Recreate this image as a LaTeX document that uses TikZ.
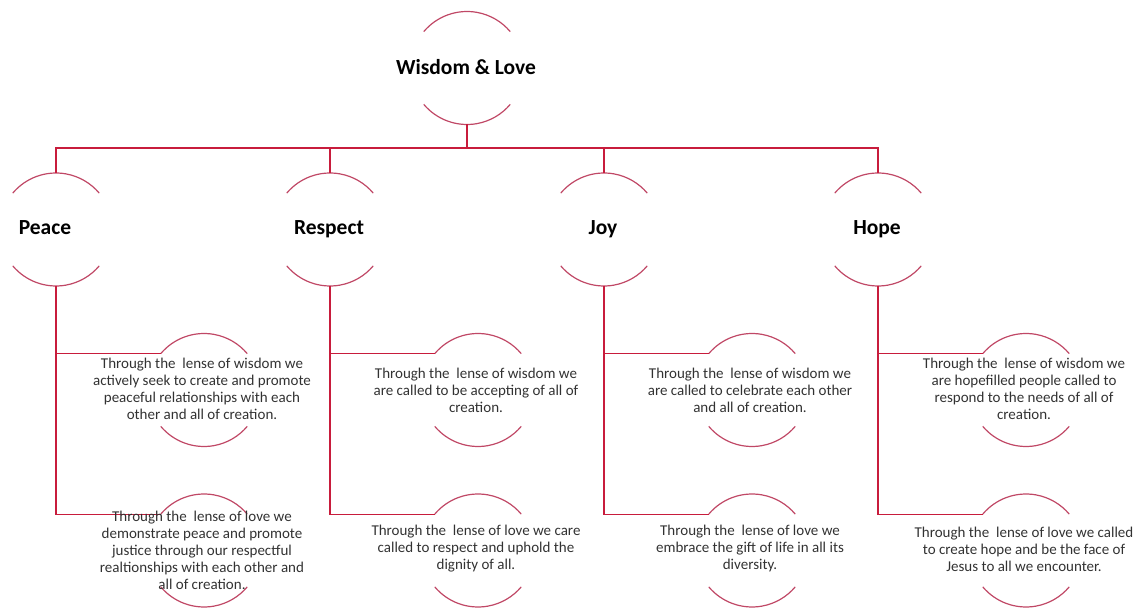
\documentclass[tikz,border=0pt]{standalone}
\usepackage{fontspec}
\setmainfont{Carlito}
\definecolor{connred}{RGB}{200,28,60}
\definecolor{arcred}{RGB}{192,72,102}
\definecolor{txtgray}{RGB}{50,50,50}
\tikzset{
  ring/.style={circle, minimum size=113pt, inner sep=0pt, outer sep=0pt},
  conn/.style={draw=connred, line width=1.2pt},
  arcline/.style={draw=arcred, line width=1.2pt},
  labone/.style={font=\fontsize{21.5}{25}\selectfont\bfseries, text=black, inner sep=0pt, anchor=base},
  labthree/.style={font=\fontsize{15}{17}\selectfont, text=txtgray, align=center, inner sep=0pt},
}
\newcommand\tworingarcs[1]{%
  \draw[arcline] (#1.140) arc[start angle=140, end angle=40, radius=56.5pt];
  \draw[arcline] (#1.220) arc[start angle=220, end angle=320, radius=56.5pt];}
\begin{document}
\begin{tikzpicture}[x=1pt,y=1pt]
\useasboundingbox (0,0) rectangle (1144,608);
% rings
\node[ring] (w) at (467,540) {};
\node[ring] (p) at (56,378.5) {};
\node[ring] (r) at (330,378.5) {};
\node[ring] (j) at (604,378.5) {};
\node[ring] (h) at (878,378.5) {};
\node[ring] (p1) at (204,218) {};
\node[ring] (p2) at (204,57.5) {};
\node[ring] (r1) at (478,218) {};
\node[ring] (r2) at (478,57.5) {};
\node[ring] (j1) at (752,218) {};
\node[ring] (j2) at (752,57.5) {};
\node[ring] (h1) at (1026,218) {};
\node[ring] (h2) at (1026,57.5) {};
\foreach \n in {w,p,r,j,h,p1,p2,r1,r2,j1,j2,h1,h2}{\tworingarcs{\n}}
% connectors
\coordinate (bus) at (467,460);
\draw[conn] (w.south) -- (bus);
\foreach \n in {p,r,j,h}{\draw[conn] (\n.north) |- (bus);}
\foreach \n in {p,r,j,h}{
  \draw[conn] (\n.south) |- (\n1.140);
  \draw[conn] (\n.south) |- (\n2.140);}
% labels
\node[labone] (wt) at (466,533) {Wisdom \& Love};
\node[labone] (pt) at (45,373) {Peace};
\node[labone] (rt) at (329,373) {Respect};
\node[labone] (jt) at (603,373) {Joy};
\node[labone] (ht) at (877,373) {Hope};
\node[labthree] (p1t) at (202,219) {Through the\ \ lense of wisdom we\\actively seek to create and promote\\peaceful relationships with each\\other and all of creation.};
\node[labthree] (p2t) at (202,57.5) {Through the\ \ lense of love we\\demonstrate peace and promote\\justice through our respectful\\realtionships with each other and\\all of creation.};
\node[labthree] (r1t) at (476,217.5) {Through the\ \ lense of wisdom we\\are called to be accepting of all of\\creation.};
\node[labthree] (r2t) at (476,59) {Through the\ \ lense of love we care\\called to respect and uphold the\\dignity of all.};
\node[labthree] (j1t) at (750,217.5) {Through the\ \ lense of wisdom we\\are called to celebrate each other\\and all of creation.};
\node[labthree] (j2t) at (750,59) {Through the\ \ lense of love we\\embrace the gift of life in all its\\diversity.};
\node[labthree] (h1t) at (1024,219) {Through the\ \ lense of wisdom we\\are hopefilled people called to\\respond to the needs of all of\\creation.};
\node[labthree] (h2t) at (1024,59) {Through the\ \ lense of love we called\\to create hope and be the face of\\Jesus to all we encounter.};
\end{tikzpicture}
\end{document}
